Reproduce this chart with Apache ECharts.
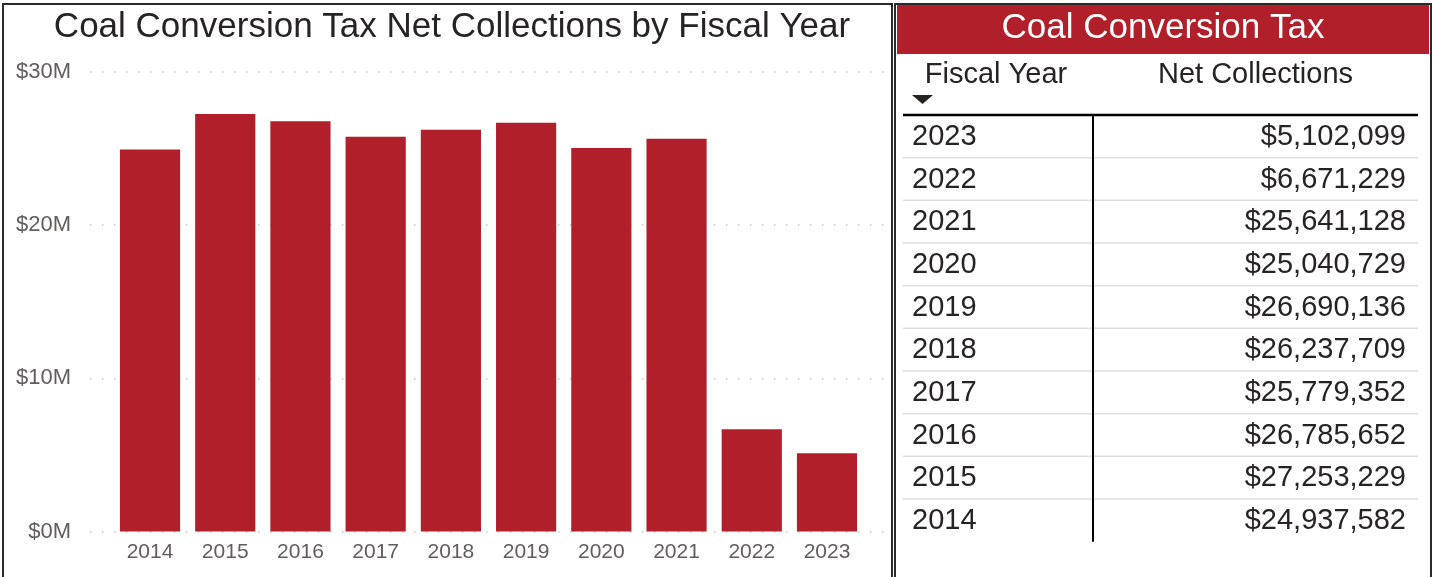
<!DOCTYPE html>
<html>
<head>
<meta charset="utf-8">
<title>Coal Conversion Tax Net Collections</title>
<script src="https://cdn.jsdelivr.net/npm/echarts@6/dist/echarts.min.js"></script>
<style>
  html, body { margin: 0; padding: 0; background: #ffffff; }
  #chart { width: 1435px; height: 577px; }
</style>
</head>
<body>
<div id="chart"></div>
<script>
// Fiscal years and net collections (USD)
const fiscalYears = ['2014', '2015', '2016', '2017', '2018', '2019', '2020', '2021', '2022', '2023'];
const netCollections = [24937582, 27253229, 26785652, 25779352, 26237709, 26690136, 25040729, 25641128, 6671229, 5102099];
const yTicks = [0, 10000000, 20000000, 30000000];

const chartTitle = 'Coal Conversion Tax Net Collections by Fiscal Year';
const tableTitle = 'Coal Conversion Tax';
const tableHeaders = ['Fiscal Year', 'Net Collections'];

const FONT = '"Liberation Sans", Arial, Helvetica, sans-serif';
const RED = '#B01F2A';
const TEXT = '#252423';
const AXIS_TEXT = '#605E5C';

const fmtMoney = v => '$' + v.toLocaleString('en-US');
const fmtMillions = v => '$' + Math.round(v / 1e6) + 'M';

// ---- Table panel, built from the data arrays (newest year first) ----
const table = {
  left: 903, right: 1418, split: 1093,
  headTop: 115, rowH: 42.67,
  yearX: 912, valueX: 1406
};
const rows = fiscalYears.map((y, i) => ({ year: y, value: netCollections[i] })).reverse();

const graphics = [];

// panel frames
graphics.push({
  type: 'rect', shape: { x: 3, y: 4, width: 889, height: 640 },
  style: { fill: 'none', stroke: '#2A2A2A', lineWidth: 2 }, silent: true
});
graphics.push({
  type: 'rect', shape: { x: 895, y: 4, width: 536, height: 640 },
  style: { fill: 'none', stroke: '#2A2A2A', lineWidth: 2 }, silent: true
});

// chart title
graphics.push({
  type: 'text', x: 452, y: 27,
  style: { text: chartTitle, fill: TEXT, font: '35px ' + FONT, textAlign: 'center', textVerticalAlign: 'middle' }
});

// table banner
graphics.push({
  type: 'rect', shape: { x: 897, y: 5, width: 532, height: 49 },
  style: { fill: RED }, silent: true
});
graphics.push({
  type: 'text', x: 1163, y: 28,
  style: { text: tableTitle, fill: '#FFFFFF', font: '35px ' + FONT, textAlign: 'center', textVerticalAlign: 'middle' }
});

// column headers
graphics.push({
  type: 'text', x: (table.left + table.split) / 2 - 2, y: 75,
  style: { text: tableHeaders[0], fill: TEXT, font: '29px ' + FONT, textAlign: 'center', textVerticalAlign: 'middle' }
});
graphics.push({
  type: 'text', x: (table.split + table.right) / 2, y: 75,
  style: { text: tableHeaders[1], fill: TEXT, font: '29px ' + FONT, textAlign: 'center', textVerticalAlign: 'middle' }
});
// sort indicator
graphics.push({
  type: 'polygon', shape: { points: [[912, 95], [933, 95], [922.5, 104]] },
  style: { fill: TEXT }, silent: true
});

// row separators
rows.forEach((r, i) => {
  if (i < rows.length - 1) {
    const y = table.headTop + table.rowH * (i + 1);
    graphics.push({
      type: 'line', shape: { x1: table.left, y1: y, x2: table.right, y2: y },
      style: { stroke: '#E1DFDD', lineWidth: 1.5 }, silent: true
    });
  }
});
// header rule and column divider
graphics.push({
  type: 'line', shape: { x1: table.left, y1: table.headTop, x2: table.right, y2: table.headTop },
  style: { stroke: '#000000', lineWidth: 2.5 }, silent: true
});
graphics.push({
  type: 'line', shape: { x1: table.split, y1: table.headTop, x2: table.split, y2: table.headTop + table.rowH * rows.length },
  style: { stroke: '#000000', lineWidth: 2 }, silent: true
});

// row cells
rows.forEach((r, i) => {
  const cy = table.headTop + table.rowH * (i + 0.5) + 0.5;
  graphics.push({
    type: 'text', x: table.yearX, y: cy,
    style: { text: r.year, fill: TEXT, font: '29px ' + FONT, textAlign: 'left', textVerticalAlign: 'middle' }
  });
  graphics.push({
    type: 'text', x: table.valueX, y: cy,
    style: { text: fmtMoney(r.value), fill: TEXT, font: '29px ' + FONT, textAlign: 'right', textVerticalAlign: 'middle' }
  });
});

// ---- Bar chart ----
const chart = echarts.init(document.getElementById('chart'), null, { renderer: 'canvas' });

const yMin = yTicks[0];
const yMax = yTicks[yTicks.length - 1];
const yStep = yTicks[1] - yTicks[0];

chart.setOption({
  animation: false,
  backgroundColor: '#ffffff',
  textStyle: { fontFamily: FONT },
  grid: [
    // wide grid carrying the value labels and dotted gridlines
    { left: 90, right: 1435 - 885, top: 72, bottom: 577 - 531.5, containLabel: false },
    // narrower grid holding the bars
    { left: 112.4, right: 1435 - 864.6, top: 72, bottom: 577 - 531.5, containLabel: false }
  ],
  xAxis: [
    { gridIndex: 0, type: 'category', data: fiscalYears, show: false },
    {
      gridIndex: 1, type: 'category', data: fiscalYears,
      axisLine: { show: false }, axisTick: { show: false },
      axisLabel: { color: AXIS_TEXT, fontSize: 21, fontFamily: FONT, margin: 10 }
    }
  ],
  yAxis: [
    {
      gridIndex: 0, type: 'value', min: yMin, max: yMax, interval: yStep,
      axisLine: { show: false }, axisTick: { show: false },
      axisLabel: { color: AXIS_TEXT, fontSize: 22, fontFamily: FONT, margin: 19, formatter: fmtMillions },
      splitLine: { show: true, lineStyle: { color: '#C8C6C4', width: 1.5, type: [1.5, 10.5] } }
    },
    {
      gridIndex: 1, type: 'value', min: yMin, max: yMax, interval: yStep,
      show: false, splitLine: { show: false }
    }
  ],
  series: [{
    type: 'bar',
    xAxisIndex: 1, yAxisIndex: 1,
    data: netCollections,
    barCategoryGap: '20%',
    itemStyle: { color: RED },
    silent: true
  }],
  graphic: { elements: graphics }
});
</script>
</body>
</html>
